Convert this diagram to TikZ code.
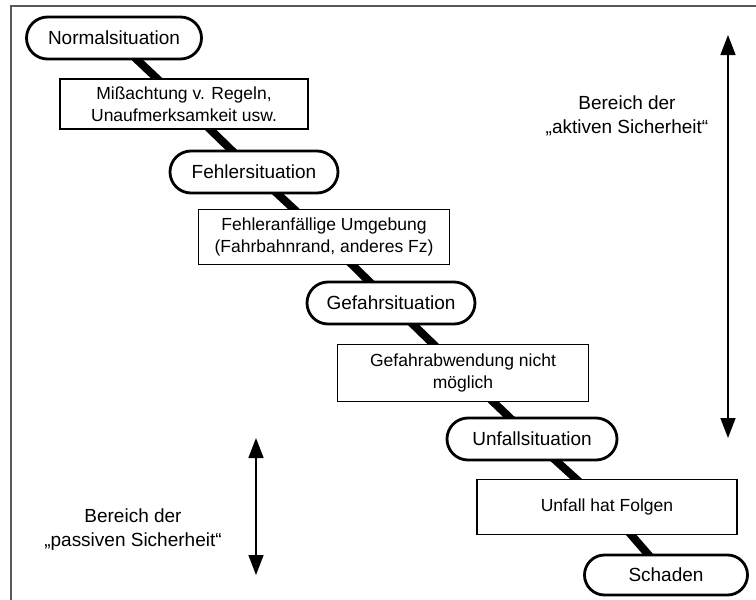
\documentclass[tikz,border=0pt]{standalone}
\usepackage{fontspec}
\setmainfont{Liberation Sans}
\usetikzlibrary{shapes.misc,arrows.meta,backgrounds}
\begin{document}
\begin{tikzpicture}[x=1pt,y=-1pt,
 pill/.style={rounded rectangle, draw, line width=2.8pt, fill=white, minimum width=168pt, minimum height=42pt, font=\fontsize{19}{22}\selectfont, inner sep=0pt},
 stepbox/.style={rectangle, draw, line width=1.6pt, fill=white, minimum width=251pt, minimum height=55pt, align=center, font=\fontsize{17.5}{21.5}\selectfont, inner sep=2pt},
 link/.style={line width=8pt, black},
 span/.style={line width=1.6pt, {Triangle[width=15pt,length=20pt]}-{Triangle[width=15pt,length=20pt]}},
 lbl/.style={align=center, font=\fontsize{19}{24}\selectfont}]
\useasboundingbox (0,0) rectangle (756,600);
\draw[black!65, line width=1.6pt] (11,600) -- (11,6) -- (756,6);

\node[pill, minimum width=175pt] (n1) at (114,38) {Normalsituation};
\node[stepbox, minimum height=50pt, minimum width=248pt] (b1) at (184,104) {Mißachtung v. Regeln,\\Unaufmerksamkeit usw.};
\node[pill] (n2) at (254,172) {Fehlersituation};
\node[stepbox] (b2) at (324,237) {Fehleranfällige Umgebung\\(Fahrbahnrand, anderes Fz)};
\node[pill] (n3) at (391,303) {Gefahrsituation};
\node[stepbox, minimum height=57pt] (b3) at (463,373) {Gefahrabwendung nicht\\möglich};
\node[pill, minimum width=170pt] (n4) at (532,439) {Unfallsituation};
\node[stepbox, minimum width=260pt] (b4) at (607,507) {Unfall hat Folgen};
\node[pill, minimum width=163pt, minimum height=40pt] (n5) at (666,575) {Schaden};

\begin{scope}[on background layer]
\draw[link] (n1.center) -- (b1.center) -- (n2.center) -- (b2.center) -- (n3.center)
  -- (b3.center) -- (n4.center) -- (b4.center) -- (n5.center);
\end{scope}

\coordinate (at) at (728,35);
\coordinate (ab) at (728,438);
\draw[span] (at) -- (ab);
\node[lbl] (la) at (627,116) {Bereich der\\„aktiven Sicherheit“};

\coordinate (pt) at (256,438);
\coordinate (pb) at (256,575);
\draw[span] (pt) -- (pb);
\node[lbl] (lp) at (133,530) {Bereich der\\„passiven Sicherheit“};
\end{tikzpicture}
\end{document}
